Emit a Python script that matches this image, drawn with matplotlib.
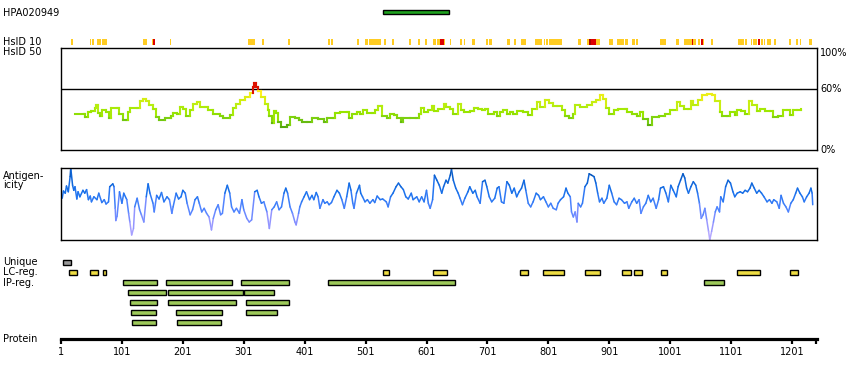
import numpy as np
import matplotlib
matplotlib.use("Agg")
import matplotlib.pyplot as plt
from matplotlib.collections import LineCollection
from matplotlib.colors import LinearSegmentedColormap, Normalize

# ---- data (residue numbers) ----
protein_len = 1241
antigen_name = "HPA020949"
antigen_span = (530, 638)

hsid10_yellow = [(17, 21), (48, 50), (52, 55), (60, 67), (68, 77), (136, 142), (150, 152),
                 (180, 182), (308, 320), (331, 334), (374, 377), (439, 443), (444, 447),
                 (487, 490), (500, 505), (507, 526), (531, 535), (544, 548), (572, 576),
                 (587, 590), (598, 602), (612, 617), (618, 623), (630, 632), (640, 642),
                 (656, 659), (663, 665), (676, 681), (699, 702), (704, 709), (733, 738),
                 (745, 748), (756, 764), (779, 791), (794, 796), (797, 800), (802, 823),
                 (850, 855), (864, 868), (879, 886), (901, 907), (914, 925), (927, 932),
                 (938, 943), (945, 948), (984, 994), (1011, 1015), (1024, 1037),
                 (1039, 1043), (1047, 1050), (1055, 1057), (1068, 1071), (1112, 1122),
                 (1124, 1127), (1134, 1136), (1137, 1144), (1150, 1153), (1155, 1157),
                 (1160, 1167), (1172, 1175), (1196, 1199), (1208, 1211), (1214, 1216),
                 (1229, 1234)]
hsid10_red = [(152, 156), (623, 630), (871, 879), (1037, 1039), (1052, 1055), (1145, 1149)]
hsid10_darkred = [(868, 871)]

hsid50_pos = [24, 38, 40, 46, 51, 56, 58, 61, 65, 69, 75, 79, 83, 93, 97, 102, 108, 111, 115,
              125, 130, 135, 141, 146, 152, 157, 162, 172, 181, 185, 191, 196, 201, 206, 212,
              217, 224, 229, 237, 243, 251, 262, 267, 278, 284, 289, 295, 303, 311, 316, 318,
              321, 325, 330, 336, 340, 343, 347, 350, 354, 358, 362, 372, 377, 385, 391,
              396, 404, 413, 423, 432, 437, 448, 451, 459, 470, 473, 478, 487, 492, 496, 503,
              511, 516, 521, 526, 528, 536, 541, 547, 552, 559, 563, 574, 584, 588, 592, 597,
              604, 610, 614, 620, 629, 633, 640, 645, 652, 658, 663, 672, 679, 686, 692, 697,
              702, 711, 716, 722, 727, 733, 738, 743, 749, 760, 768, 774, 782, 787, 796, 802,
              809, 816, 823, 828, 835, 842, 845, 853, 864, 872, 880, 885, 890, 896, 901, 908,
              916, 927, 930, 938, 946, 952, 957, 964, 971, 982, 993, 1001, 1006, 1012, 1017,
              1023, 1031, 1035, 1039, 1046, 1053, 1061, 1069, 1075, 1082, 1086, 1094, 1099,
              1105, 1107, 1110, 1118, 1124, 1131, 1135, 1143, 1148, 1157, 1165, 1170, 1178,
              1186, 1192, 1197, 1202, 1209, 1215]
hsid50_pct = [35, 35, 32, 37, 38, 41, 44, 36, 33, 39, 37, 31, 41, 41, 35, 29, 29, 37, 41,
              41, 48, 50, 48, 44, 40, 32, 29, 31, 33, 36, 35, 42, 40, 33, 39,
              45, 47, 42, 42, 39, 35, 33, 31, 34, 41, 45, 49, 52, 56, 62, 66,
              62, 58, 52, 45, 39, 33, 26, 38, 36, 27, 23, 25, 32, 31, 29,
              27, 27, 31, 30, 27, 31, 31, 36, 37, 37, 31, 35, 37, 35, 39, 36,
              36, 39, 43, 43, 33, 31, 35, 34, 31, 27, 31, 31, 31, 35, 41, 37,
              39, 43, 38, 40, 45, 42, 40, 35, 45, 39, 37, 38, 41, 40, 39, 40,
              35, 37, 33, 37, 39, 35, 37, 35, 38, 37, 34, 40, 47, 42, 49, 46,
              43, 43, 39, 33, 31, 35, 44, 42, 44, 47, 49, 54, 50, 41, 35, 39,
              40, 40, 37, 35, 33, 37, 30, 25, 32, 33, 35, 39, 39, 47, 43,
              40, 40, 48, 44, 49, 54, 55, 54, 48, 37, 33, 33, 37,
              37, 34, 39, 38, 35, 48, 44, 38, 40, 38, 38, 32, 33,
              39, 39, 34, 39, 39, 40]

antigen_pos = [3, 5, 8, 10, 13, 16, 17, 20, 22, 24, 27, 29, 32, 37, 40, 43, 46, 49, 51, 55,
               60, 63, 68, 72, 75, 79, 81, 86, 88, 90, 91, 93, 97, 101, 104, 109, 112, 114,
               117, 120, 122, 126, 130, 133, 137, 141, 144, 147, 152, 154, 158, 162, 166,
               170, 175, 179, 183, 185, 190, 194, 198, 201, 205, 208, 213, 217, 221, 225,
               228, 232, 236, 240, 244, 248, 251, 255, 259, 263, 266, 270, 274, 278, 281,
               285, 289, 294, 298, 301, 306, 310, 314, 319, 323, 326, 330, 334, 339, 343,
               347, 351, 355, 359, 363, 367, 370, 373, 377, 381, 385, 387, 391, 393, 396,
               400, 404, 409, 413, 416, 420, 423, 426, 431, 434, 438, 441, 445, 449, 454,
               458, 462, 466, 470, 474, 477, 480, 482, 486, 491, 493, 496, 500, 504, 508,
               513, 516, 520, 525, 529, 535, 538, 542, 546, 551, 555, 559, 563, 567, 571,
               576, 579, 585, 589, 593, 597, 601, 604, 607, 611, 614, 618, 622, 626, 629,
               633, 636, 640, 642, 645, 649, 653, 656, 660, 664, 669, 672, 677, 681, 684,
               689, 693, 697, 700, 704, 708, 713, 717, 720, 724, 728, 733, 737, 741, 745,
               749, 753, 757, 761, 764, 768, 772, 776, 781, 785, 788, 793, 797, 801, 805,
               809, 814, 817, 821, 826, 830, 833, 837, 839, 842, 845, 848, 850, 854, 857,
               861, 865, 868, 872, 876, 879, 882, 885, 889, 892, 897, 901, 905, 909, 913,
               917, 921, 926, 930, 933, 938, 942, 946, 950, 953, 957, 961, 965, 969, 973,
               978, 982, 985, 990, 994, 998, 1002, 1006, 1011, 1014, 1018, 1022, 1025,
               1028, 1031, 1035, 1039, 1043, 1046, 1049, 1052, 1055, 1058, 1061, 1064,
               1066, 1069, 1072, 1075, 1078, 1082, 1084, 1088, 1092, 1096, 1100, 1104,
               1107, 1111, 1116, 1120, 1124, 1128, 1132, 1135, 1139, 1143, 1147, 1151,
               1155, 1160, 1164, 1168, 1171, 1176, 1180, 1183, 1187, 1191, 1195, 1199,
               1203, 1207, 1210, 1214, 1218, 1221, 1225, 1229, 1232, 1234, 1235]
antigen_score = [58, 68, 65, 75, 67, 88, 100, 76, 69, 74, 57, 67, 60, 69, 65, 70, 56, 61, 53, 60,
                 56, 65, 52, 56, 50, 53, 74, 78, 74, 44, 27, 33, 67, 51, 65, 56, 37, 25,
                 7, 16, 46, 58, 42, 35, 25, 60, 78, 65, 51, 39, 62, 57, 66,
                 53, 60, 56, 37, 46, 65, 57, 60, 69, 65, 51, 35, 42, 56, 60,
                 51, 39, 44, 37, 32, 14, 30, 42, 49, 35, 37, 65, 76, 65, 46,
                 39, 44, 37, 56, 42, 30, 25, 28, 67, 69, 60, 51, 53, 39, 16,
                 42, 46, 53, 42, 46, 65, 72, 65, 46, 37, 25, 21, 37, 46, 53,
                 60, 67, 56, 62, 56, 66, 60, 44, 56, 51, 53, 49, 52, 60, 69,
                 65, 56, 44, 60, 79, 69, 51, 44, 65, 76, 65, 60, 53, 56, 51,
                 56, 52, 61, 56, 57, 53, 46, 60, 65, 74, 79, 74, 70, 60, 57,
                 65, 56, 60, 53, 60, 53, 69, 51, 44, 56, 90, 83, 76, 65, 74,
                 83, 79, 90, 98, 83, 72, 65, 58, 49, 58, 67, 74, 65, 69,
                 60, 51, 81, 83, 74, 60, 53, 58, 72, 74, 53, 51, 81, 76, 65,
                 72, 60, 67, 72, 83, 69, 51, 46, 53, 65, 62, 56, 60, 53, 46,
                 51, 44, 42, 51, 56, 60, 72, 65, 60, 39, 32, 39, 25, 51, 46,
                 51, 74, 79, 92, 90, 88, 79, 65, 53, 58, 51, 58, 76, 65, 53,
                 49, 58, 56, 51, 53, 44, 53, 58, 51, 56, 37, 46, 51, 62, 53,
                 58, 44, 56, 72, 74, 65, 53, 76, 69, 60, 74, 83, 92, 86,
                 72, 65, 74, 81, 76, 65, 51, 30, 35, 44, 28, 12,
                 0, 12, 25, 39, 46, 39, 60, 53, 74, 83, 79, 67,
                 60, 65, 67, 65, 69, 67, 72, 79, 72, 65, 69, 65,
                 60, 53, 56, 51, 56, 53, 44, 62, 51, 46, 39, 51,
                 56, 65, 72, 65, 60, 53, 60, 65, 72, 65, 49]

unique_regions = [(4, 17)]
lc_regions = [(14, 27), (49, 62), (70, 75), (530, 540), (612, 635), (755, 768), (793, 827),
              (861, 886), (922, 937), (942, 955), (986, 996), (1111, 1149), (1198, 1211)]
ip_regions = [
    [(103, 159), (174, 281), (296, 376), (440, 647), (1056, 1089)],
    [(111, 173), (176, 300), (301, 351)],
    [(115, 159), (176, 289), (304, 376)],
    [(116, 157), (190, 266), (304, 355)],
    [(118, 157), (192, 263)],
]
tick_residues = [1, 101, 201, 301, 401, 501, 601, 701, 801, 901, 1001, 1101, 1201]

# ---- figure ----
W, H = 850, 380
fig = plt.figure(figsize=(W / 100, H / 100), dpi=100)
plt.rcParams['font.family'] = ['DejaVu Sans']
FS = 7
left, width = 61 / W, 756 / W
xlim = (1, protein_len + 1)


def box(top_px, bottom_px):
    return [left, 1 - bottom_px / H, width, (bottom_px - top_px) / H]


def spans(ax, regions, y, h, color, edge=None):
    s = np.array([r[0] for r in regions])
    e = np.array([r[1] for r in regions])
    ax.barh(y, e - s, left=s, height=h, color=color,
            edgecolor=edge if edge else 'none', linewidth=1.0 if edge else 0)


def step_line(ax, x, y, cmap, norm, lw, red_above=None):
    # stepped profile, each piece coloured by its own level
    x = np.asarray(x, float)
    y = np.asarray(y, float)
    segs, lev = [], []
    for i in range(len(x) - 1):
        segs.append([(x[i], y[i]), (x[i + 1], y[i])])
        lev.append(y[i])
        segs.append([(x[i + 1], y[i]), (x[i + 1], y[i + 1])])
        lev.append(max(y[i], y[i + 1]))
    lev = np.array(lev)
    cols = cmap(norm(lev))
    if red_above is not None:
        cols[lev > red_above] = matplotlib.colors.to_rgba('#dd1100')
    ax.add_collection(LineCollection(segs, colors=cols, linewidths=lw,
                                     capstyle='projecting', joinstyle='miter'))


def plain_line(ax, x, y, cmap, norm, lw):
    x = np.asarray(x, float)
    y = np.asarray(y, float)
    pts = np.column_stack([x, y])
    segs = np.stack([pts[:-1], pts[1:]], axis=1)
    cols = cmap(norm(np.minimum(y[:-1], y[1:])))
    ax.add_collection(LineCollection(segs, colors=cols, linewidths=lw,
                                     capstyle='round', joinstyle='round'))


# top strip: antigen bar + HsID 10
ax_top = fig.add_axes(box(0, 48))
ax_top.set_xlim(*xlim)
ax_top.set_ylim(48, 0)
ax_top.axis('off')
spans(ax_top, [antigen_span], 12, 4, '#1fa21f', 'black')
spans(ax_top, hsid10_yellow, 42, 6, '#ffcc22')
spans(ax_top, hsid10_red, 42, 6, '#dd0000')
spans(ax_top, hsid10_darkred, 42, 6, '#aa0000')

# HsID 50 panel
ax_id = fig.add_axes(box(48, 150))
ax_id.set_xlim(*xlim)
ax_id.set_ylim(0, 100)
ax_id.set_xticks([])
ax_id.set_yticks([])
for sp in ax_id.spines.values():
    sp.set_linewidth(1.0)
ax_id.axhline(60, color='black', lw=1.0)
id_cmap = LinearSegmentedColormap.from_list('id', [
    (0.0, '#3d8c00'), (0.24, '#55a80e'), (0.30, '#77cc11'), (0.37, '#99e600'),
    (0.45, '#bbee11'), (0.52, '#ddee11'), (0.58, '#ffee22'), (1.0, '#ffee22')])
step_line(ax_id, hsid50_pos, hsid50_pct, id_cmap, Normalize(0, 100), 1.5, red_above=60)
ytr = ax_id.get_yaxis_transform()
ax_id.text(1.004, 100, '100%', transform=ytr, va='top', ha='left', fontsize=FS)
ax_id.text(1.004, 60, '60%', transform=ytr, va='center', ha='left', fontsize=FS)
ax_id.text(1.004, 0, '0%', transform=ytr, va='center', ha='left', fontsize=FS)

# antigenicity panel
ax_ag = fig.add_axes(box(168, 240))
ax_ag.set_xlim(*xlim)
ax_ag.set_ylim(0, 100)
ax_ag.set_xticks([])
ax_ag.set_yticks([])
for sp in ax_ag.spines.values():
    sp.set_linewidth(1.0)
ag_cmap = LinearSegmentedColormap.from_list('ag', [
    (0.0, '#b4a8ff'), (0.2, '#8a90ff'), (0.38, '#4f84ff'), (0.6, '#1a72ee'),
    (0.82, '#0a60d0'), (1.0, '#0048a0')])
plain_line(ax_ag, antigen_pos, antigen_score, ag_cmap, Normalize(0, 100), 1.1)

# region tracks
ax_tr = fig.add_axes(box(257.5, 327.5))
ax_tr.set_xlim(*xlim)
ax_tr.set_ylim(6.5, -0.5)
ax_tr.axis('off')
spans(ax_tr, unique_regions, 0, 0.45, '#999999', 'black')
spans(ax_tr, lc_regions, 1, 0.45, '#eedd44', 'black')
for i, row in enumerate(ip_regions):
    spans(ax_tr, row, 2 + i, 0.45, '#9dc95a', 'black')

# protein axis
ax_pr = fig.add_axes([left, 1 - 339 / H, width, 0.01])
ax_pr.set_xlim(*xlim)
for k in ('top', 'left', 'right'):
    ax_pr.spines[k].set_visible(False)
ax_pr.spines['bottom'].set_linewidth(2.3)
ax_pr.set_yticks([])
ax_pr.set_xticks(tick_residues + [protein_len])
ax_pr.set_xticklabels([str(t) for t in tick_residues] + [''])
ax_pr.tick_params(axis='x', direction='out', length=3.5, width=1.6, pad=2, labelsize=FS)
ax_pr.patch.set_visible(False)

# left-hand labels
labels = [(13, antigen_name), (42, 'HsID 10'), (52, 'HsID 50'), (176, 'Antigen-'),
          (185, 'icity'), (262, 'Unique'), (272, 'LC-reg.'), (283, 'IP-reg.'),
          (339, 'Protein')]
for ypx, txt in labels:
    fig.text(3 / W, 1 - ypx / H, txt, va='center', ha='left', fontsize=FS)

fig.savefig('out.png', dpi=100)
